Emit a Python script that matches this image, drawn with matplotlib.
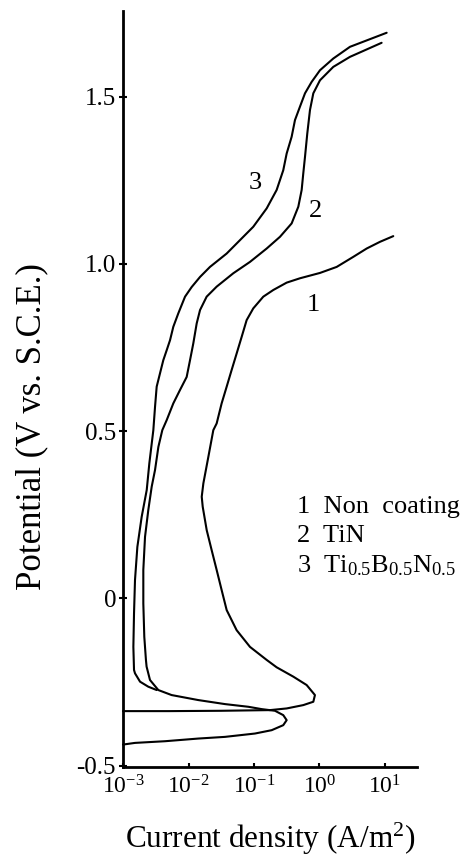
import matplotlib
matplotlib.use("Agg")
import matplotlib.pyplot as plt
import numpy as np

plt.rcParams['font.family'] = ['Liberation Serif', 'DejaVu Serif']
plt.rcParams['mathtext.fontset'] = 'custom'
plt.rcParams['mathtext.rm'] = 'Liberation Serif'
plt.rcParams['mathtext.it'] = 'Liberation Serif'
plt.rcParams['axes.unicode_minus'] = False

# ---- data: log10(current density) and potential (V vs SCE) ----
# Curve 1: Non coating (anodic branch down to the nose, then back to Ecorr)
c1_logi = [1.127, 0.924, 0.721, 0.516, 0.263, 0.008, -0.298, -0.501, -0.705, -0.858,
           -1.011, -1.112, -1.188, -1.265, -1.341, -1.417, -1.494, -1.570, -1.621,
           -1.697, -1.773, -1.798, -1.783, -1.722, -1.646, -1.570, -1.494, -1.417,
           -1.265, -1.061, -0.806, -0.654, -0.399, -0.196, -0.069, -0.094, -0.247,
           -0.501, -0.756, -1.5, -2.3, -3.0]
c1_E = [1.083, 1.066, 1.046, 1.021, 0.991, 0.973, 0.957, 0.944, 0.922, 0.902,
        0.867, 0.832, 0.782, 0.732, 0.683, 0.633, 0.583, 0.523, 0.503,
        0.423, 0.344, 0.304, 0.274, 0.204, 0.144, 0.085, 0.025, -0.035,
        -0.095, -0.145, -0.184, -0.206, -0.234, -0.259, -0.289, -0.309, -0.319,
        -0.329, -0.334, -0.336, -0.337, -0.337]

# Curve 2: TiN (anodic branch, then cathodic loop)
c2_logi = [0.949, 0.466, 0.211, 0.008, -0.094, -0.145, -0.186, -0.221, -0.247, -0.272,
           -0.323, -0.425, -0.603, -0.806, -1.061, -1.316, -1.570, -1.723, -1.824,
           -1.875, -1.927, -1.977, -2.028, -2.130, -2.232, -2.333, -2.40, -2.46,
           -2.511, -2.562, -2.614, -2.664, -2.690, -2.690, -2.675, -2.650, -2.640,
           -2.588, -2.461, -2.258, -1.850, -1.443, -1.087, -0.883, -0.679,
           -0.553, -0.501, -0.553, -0.730, -0.985, -1.443, -1.850, -2.359, -2.817, -3.0]
c2_E = [1.661, 1.619, 1.589, 1.549, 1.510, 1.460, 1.390, 1.320, 1.271, 1.221,
        1.171, 1.121, 1.081, 1.046, 1.006, 0.972, 0.932, 0.902, 0.862,
        0.822, 0.762, 0.712, 0.662, 0.623, 0.583, 0.533, 0.503, 0.453,
        0.384, 0.334, 0.264, 0.184, 0.085, -0.015, -0.115, -0.184, -0.204,
        -0.244, -0.274, -0.289, -0.304, -0.316, -0.324, -0.331, -0.336,
        -0.349, -0.364, -0.379, -0.394, -0.404, -0.414, -0.419, -0.427, -0.432, -0.437]

# Curve 3: Ti0.5B0.5N0.5 (joins curve 2 near -0.27 V)
c3_logi = [1.026, 0.466, 0.211, 0.008, -0.120, -0.221, -0.298, -0.374, -0.425, -0.501,
           -0.553, -0.654, -0.806, -1.011, -1.214, -1.417, -1.672, -1.824, -1.951,
           -2.053, -2.156, -2.232, -2.282, -2.333, -2.385, -2.435, -2.486, -2.511,
           -2.537, -2.598, -2.638, -2.715, -2.781, -2.817, -2.832, -2.842, -2.832,
           -2.817, -2.740, -2.614, -2.486]
c3_E = [1.691, 1.649, 1.614, 1.579, 1.544, 1.510, 1.470, 1.430, 1.380, 1.330,
        1.280, 1.221, 1.166, 1.111, 1.071, 1.031, 0.991, 0.961, 0.931,
        0.902, 0.852, 0.812, 0.772, 0.742, 0.712, 0.673, 0.633, 0.573,
        0.503, 0.404, 0.324, 0.244, 0.154, 0.055, -0.045, -0.145, -0.214,
        -0.224, -0.249, -0.264, -0.274]

curve_labels = ["1", "2", "3"]
label_logi = [-0.099, -0.053, -0.985]
label_E = [0.877, 1.158, 1.242]

legend_lines = ["1  Non  coating", "2  TiN", "3  Ti$_{0.5}$B$_{0.5}$N$_{0.5}$"]

yticks = [-0.5, 0.0, 0.5, 1.0, 1.5]
yticklabels = ["-0.5", "0", "0.5", "1.0", "1.5"]
xticks = [1e-3, 1e-2, 1e-1, 1e0, 1e1]
xticklabels = ["10$^{-3}$", "10$^{-2}$", "10$^{-1}$", "10$^{0}$", "10$^{1}$"]

# ---- figure ----
fig = plt.figure(figsize=(4.77, 8.61), dpi=100)
ax = fig.add_axes([0.2579, 0.1092, 0.6164, 0.878])

lw = 1.5
for li, E in [(c1_logi, c1_E), (c2_logi, c2_E), (c3_logi, c3_E)]:
    ax.plot(10 ** np.array(li), E, color='black', lw=lw, solid_capstyle='round',
            solid_joinstyle='round', clip_on=False)

ax.set_xscale('log')
ax.set_xlim(1e-3, 10 ** 1.49)
ax.set_ylim(-0.504, 1.756)

for s in ['top', 'right']:
    ax.spines[s].set_visible(False)
for s in ['left', 'bottom']:
    ax.spines[s].set_linewidth(2.0)

ax.set_yticks(yticks)
ax.set_yticklabels(yticklabels, fontsize=18)
ax.set_xticks(xticks)
ax.set_xticklabels(xticklabels, fontsize=17)
ax.xaxis.set_minor_locator(matplotlib.ticker.NullLocator())
ax.tick_params(axis='y', direction='inout', length=6, width=1.5, pad=2)
ax.tick_params(axis='x', direction='in', length=3, width=1.5, pad=6)

ax.set_ylabel("Potential (V vs. S.C.E.)", fontsize=25)
ax.yaxis.set_label_coords(-0.255, 0.45)
ax.set_xlabel("Current density (A/m$^2$)", fontsize=22.5, labelpad=16)

for t, li, E in zip(curve_labels, label_logi, label_E):
    ax.text(10 ** li, E, t, fontsize=19, ha='center', va='center')

leg_x = 10 ** -0.344
leg_y = [0.273, 0.186, 0.099]
for t, yv in zip(legend_lines, leg_y):
    ax.text(leg_x, yv, t, fontsize=19, ha='left', va='center')

fig.savefig("out.png", dpi=100)
